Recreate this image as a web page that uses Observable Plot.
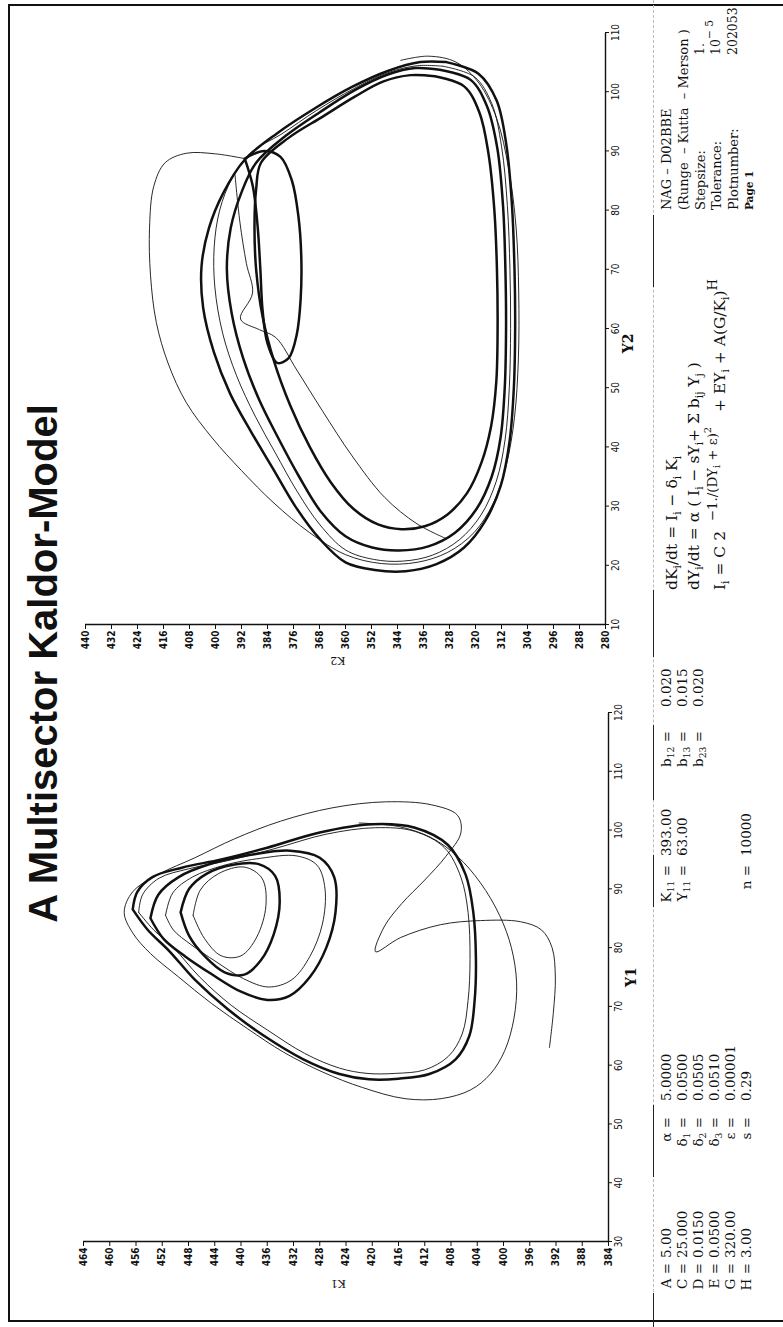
<!DOCTYPE html>
<html>
<head>
<meta charset="utf-8">
<script src="https://cdn.jsdelivr.net/npm/d3@7"></script>
<script src="https://cdn.jsdelivr.net/npm/@observablehq/plot@0.6"></script>
<style>
  html, body { margin: 0; padding: 0; background: #fff; }
  body { width: 783px; height: 1327px; overflow: hidden; position: relative; }
  /* landscape sheet, turned a quarter turn counter-clockwise */
  #page { position: absolute; left: 0; top: 0; width: 1327px; height: 783px;
          transform-origin: 0 0; transform: translate(0px, 1327px) rotate(-90deg); }
  #frame { position: absolute; left: 5px; top: 8px; width: 1314px; height: 800px;
           border-left: 2px solid #111; border-top: 2px solid #111; border-right: 2px solid #111; }
  .abs { position: absolute; white-space: nowrap; color: #111; }
  #title { left: 0; width: 1327px; top: 23px; text-align: center;
           font: bold 40px "Liberation Sans", Arial, sans-serif; line-height: 40px; }
  .serif { font-family: "DejaVu Serif", "Liberation Serif", serif; }
  .chart { position: absolute; top: 0; }
  /* raised / lowered indices that leave the line box alone */
  sub { font-size: 0.68em; position: relative; top: 0.32em; vertical-align: baseline; line-height: 0; }
  sup { font-size: 0.85em; position: relative; top: -0.6em; vertical-align: baseline; line-height: 0; }
  sup.big { font-size: 0.86em; top: -0.62em; }
  sup sup, sup sub { font-size: 0.75em; }
  .rule { position: absolute; height: 0; border-top: 1.2px solid #222; }
  .ruleFaint { position: absolute; height: 0; border-top: 1px dashed #bbb; }
</style>
</head>
<body>
<div id="page">
  <div id="frame"></div>
  <div id="title" class="abs">A Multisector Kaldor-Model</div>
</div>
<script>
// ---- axis ticks ----
const y1Ticks = [30, 40, 50, 60, 70, 80, 90, 100, 110, 120];
const k1Ticks = [384, 388, 392, 396, 400, 404, 408, 412, 416, 420, 424, 428, 432, 436, 440, 444, 448, 452, 456, 460, 464];
const y2Ticks = [10, 20, 30, 40, 50, 60, 70, 80, 90, 100, 110];
const k2Ticks = [280, 288, 296, 304, 312, 320, 328, 336, 344, 352, 360, 368, 376, 384, 392, 400, 408, 416, 424, 432, 440];

// ---- sector 1 orbit pieces, [K1, Y1] ----
const s1Start = [[393,63],[392.4,69],[392.1,75],[392.6,80],[394.2,83],[397.4,84.4],[403.5,84.6],[409.6,83.9],[415.7,81.7],[419.5,79.3],
  [418.2,83.5],[415.5,87.5],[412,91.5],[408.8,95.5],[406.5,99.5],[407,102.5],[411,104.3],[418,104.8],[426,103.8],[434,101.5],
  [441,98.5],[447,95.3],[452.5,92.5],[456.5,89.5],[457.8,86],[456.5,82.5],[453.8,79],[449.5,75],[444.5,70.5],[439,66.2],
  [433.5,62.2],[427.5,58.8],[421.5,56.2],[415,54.3],[409.5,54.3],[405,55.8],[402,58.5],[399.8,62.5],[398.4,68],[398,74],
  [398.8,80],[400.6,85.5],[403.5,91],[407,95.5],[411,98.7],[416,100.6],[422,101.2]];
const s1LoopA = [[456.5,86.5],[455.8,89.5],[453.5,92],[449,93.6],[443,95],[436,97],[428,99.6],[420,101],[413.5,100.4],[408.5,97.5],
  [405.8,92.5],[404.6,86],[404.2,78],[404.4,71],[405.2,65],[407.3,61],[411.3,58.5],[416,57.7],[420.5,57.6],[425,58.5],
  [430.5,61],[436.5,65],[442,69.5],[447,74.5],[451,79.5],[454.2,83],[456.5,86.5]];
const s1LoopB = [[453.8,85],[452.6,89],[449.5,92],[444.5,94.3],[438.5,95.8],[432.5,96.5],[428,95.3],[425.8,92],[425.6,86],[427,80],
  [429.5,75],[432.6,71.8],[436,71.1],[440,72.5],[444.5,75.5],[448.5,78.5],[451.8,81.5],[453.8,85]];
const s1LoopC = [[449.2,86],[447.9,90],[445.2,92.6],[441.2,94.1],[437.3,94.2],[434.8,92.2],[434.1,87.8],[435,82.3],[437,77.8],
  [439.5,75.4],[442.5,75.8],[445.5,78.5],[447.9,82],[449.2,86]];
const s1LoopD = [[447.3,85.5],[446.2,89.8],[443.4,92.6],[439.5,93.7],[436.8,91.8],[436.2,87.2],[437.6,81.8],[440,78.6],[443,78.6],
  [445.6,81.6],[447.3,85.5]];
const s1LoopE = [[455.6,86],[455,89],[452.5,91.8],[448,93.4],[442,94.8],[435,96.8],[427,99.3],[419.5,100.4],[413.6,99.8],[409,97],
  [406.5,92],[405.4,86],[405.1,78],[405.4,71],[406.3,65.3],[408.4,61.5],[412,59.2],[416.5,58.6],[420.8,58.6],[425,59.5],
  [430.3,62],[436,66],[441.5,70.2],[446.3,75],[450.3,80],[453.3,83],[455.6,86]];
const s1LoopF = [[451.5,85.5],[450.4,89.3],[447.4,92],[442.6,94],[437,95.2],[431.5,95.6],[428.4,94],[427.2,90],[427.6,84],
  [429.5,78.5],[432.3,74.5],[435.8,73.3],[439.6,74.7],[443.8,77.6],[447.6,80.5],[450.3,83],[451.5,85.5]];

// ---- sector 2 orbit pieces, [K2, Y2] ----
const s2LoopA = [[329,105],[319,103],[313.5,98.5],[310.5,91],[308.8,81],[308,70],[307.8,60],[308.2,50],[309.5,41],[312.2,33.5],
  [317,27.5],[323.5,23],[332,20.2],[341.5,19],[351,19.2],[360,20.5],[368,24.5],[375.5,30],[382.5,36.5],[389,42.5],[395.5,49],
  [400.5,56],[403.8,63.5],[404.3,70.5],[402,77],[397.5,83],[391,88.5],[381,93],[370,97],[358,100.8],[347,103.5],[337,105],[329,105]];
const s2LoopB = [[331,103.7],[321.5,102],[316.5,97.6],[313.3,90.5],[311.5,80.5],[310.8,70],[310.6,60],[311,50],[312.3,41.5],[315,35],
  [319.7,29.5],[326.3,25.5],[334.5,23.2],[343.5,22.5],[351.8,23],[360,24.9],[367.5,29],[374.3,35],[380.7,41.5],[386.6,48],
  [391.5,55],[395,62.5],[396.5,70],[395.3,77],[392,83],[387.5,88],[378.5,92.5],[368,96.5],[357,100.3],[347,102.9],[338.5,104],[331,103.7]];
const s2LoopC = [[332.5,102.6],[323.5,100.9],[318.8,96.5],[316,89.5],[314.2,80],[313.4,70],[313.2,60],[313.6,51],[315.2,43.5],
  [318.2,37.3],[322.6,32.2],[328.6,28.6],[335.6,26.6],[342.8,26.1],[350,26.9],[357.5,29.5],[364.5,34],[371,40],[377,47],[382,54.5],
  [385.5,62],[387.5,70],[388,77.5],[387.5,83.5],[386,88],[377.5,92.2],[367,95.8],[357,99.2],[348.5,101.7],[340,102.8],[332.5,102.6]];
const s2LoopSmall = [[391,88.7],[388.5,84],[387,77],[386.2,70],[385.5,63],[384,57.5],[381,54.2],[377.5,55],[375,59],[373.8,65],
  [373.6,72],[374.5,79],[376.5,85],[380,89],[385,90],[391,88.7]];
const s2Outer = [[391,88.7],[400,89.5],[409,89.6],[415.5,88],[419,84],[420.3,77],[420,69],[418.2,61],[414.5,54],[409,47.5],
  [401,41.5],[392,36],[382,30.5],[371,25.5],[360,21.8],[349,20.3],[338,20.5],[328.5,22.2],[320.5,25.5],[314.5,30.5],[310.5,37],
  [308,45],[306.8,55],[306.7,66],[307.5,77],[309.8,87],[313.5,95.5],[319,101.5],[326,105],[334.5,106],[343,105.3]];
const s2Start = [[394,86],[392.5,78],[390.5,71],[388.6,66],[392.3,61.6],[386.5,59.8],[381.5,58.5],[375,53],[367,46],[358,38.5],
  [348,31.5],[338,27],[329,24.5]];
const s2LoopD = [[330,104.3],[320.3,102.5],[315,98],[312,90.8],[310.2,80.8],[309.4,70],[309.2,60],[309.6,50],[310.9,41.2],
  [313.6,34.2],[318.3,28.5],[325,24.3],[333.3,21.7],[342.5,20.7],[351.4,21],[360,22.6],[367.8,26.8],[374.9,32.5],[381.6,39],
  [387.8,45.2],[393.5,52],[397.8,59.2],[400.2,67],[400.4,73.8],[398.7,80],[394.8,85.5],[389,89.8],[379.8,92.8],[369,96.8],
  [357.5,100.5],[347,103.2],[337.8,104.4],[330,104.3]];

// ---- printed parameters ----
const sectorNames = ["A", "C", "D", "E", "G", "H"];
const sectorValues = ["5.00", "25.000", "0.0150", "0.0500", "320.00", "3.00"];
const rateNames = ["&alpha;", "&delta;<sub>1</sub>", "&delta;<sub>2</sub>", "&delta;<sub>3</sub>", "&epsilon;", "s"];
const rateValues = ["5.0000", "0.0500", "0.0505", "0.0510", "0.00001", "0.29"];
const initNames = ["K<sub>11</sub>", "Y<sub>11</sub>"];
const initValues = ["393.00", "63.00"];
const couplingNames = ["b<sub>12</sub>", "b<sub>13</sub>", "b<sub>23</sub>"];
const couplingValues = ["0.020", "0.015", "0.020"];
const stepCount = "10000";
const equations = [
  "dK<sub>i</sub>/dt = I<sub>i</sub> &minus; &delta;<sub>i</sub> K<sub>i</sub>",
  "dY<sub>i</sub>/dt = &alpha; ( I<sub>i</sub> &minus; sY<sub>i</sub>+ &Sigma; b<sub>ij</sub> Y<sub>j</sub> )",
  "I<sub>i</sub> = C 2 &nbsp;<sup class=\"big\">&minus;1./(DY<sub>i</sub> + &epsilon;)<sup>2</sup></sup> &nbsp;&nbsp;+ EY<sub>i</sub> + A(G/K<sub>i</sub>)<sup>H</sup>"
];
const solverLines = ["NAG &ndash; D02BBE", "(Runge &nbsp;&ndash; Kutta &nbsp;&ndash; Merson )", "Stepsize:", "Tolerance:", "Plotnumber:", "Page 1"];
const solverValues = ["", "", "1.", "10<sup>&minus; 5</sup>", "202053", ""];

const page = document.getElementById("page");
const INK = "#111";

function series(pieces) {
  return pieces.flatMap(([pts, id]) => pts.map(([k, y]) => ({k, y, id})));
}

function phasePlot({xTicks, yTicks, xDomain, yDomain, thick, thin, xLabel, xLabelAt, yLabel, width, ml, mr, mt, mb, yLabelDx, xLabelDy}) {
  return Plot.plot({
    width, height: 700,
    marginLeft: ml, marginRight: mr, marginTop: mt, marginBottom: mb,
    style: {background: "transparent", overflow: "visible", color: INK},
    x: {domain: xDomain},
    y: {domain: yDomain},
    marks: [
      Plot.axisY({ticks: yTicks, tickSize: 4, tickPadding: 2, label: null, tickFormat: d => d,
        fontFamily: "DejaVu Sans Condensed", fontWeight: "bold", fontSize: 10}),
      Plot.axisX({ticks: xTicks, tickSize: 4, tickPadding: 2, label: null, tickFormat: d => d,
        fontFamily: "DejaVu Sans Condensed", fontSize: 10}),
      Plot.ruleX([xDomain[0]], {stroke: INK, strokeWidth: 1.4}),
      Plot.ruleY([yDomain[0]], {stroke: INK, strokeWidth: 1.4}),
      Plot.line(series(thin), {x: "y", y: "k", z: "id", curve: "catmull-rom", stroke: INK, strokeWidth: 0.9}),
      Plot.line(series(thick), {x: "y", y: "k", z: "id", curve: "catmull-rom", stroke: INK, strokeWidth: 2.5}),
      Plot.text([xLabel], {text: d => d, x: () => xLabelAt, frameAnchor: "bottom", dy: xLabelDy, lineAnchor: "middle",
        fontFamily: "DejaVu Serif", fontWeight: "bold", fontSize: 14}),
      Plot.text([yLabel], {text: d => d, frameAnchor: "left", dx: yLabelDx, rotate: -90, lineAnchor: "middle",
        fontFamily: "DejaVu Serif", fontSize: 11})
    ]
  });
}

// sector 1: plot frame spans u 85..614, v 83..608
const left = phasePlot({
  xTicks: y1Ticks, yTicks: k1Ticks, xDomain: [30, 120], yDomain: [384, 464],
  thick: [[s1LoopA, "a"], [s1LoopB, "b"], [s1LoopC, "c"]],
  thin: [[s1Start, "s"], [s1LoopD, "d"], [s1LoopE, "e"], [s1LoopF, "f"]],
  xLabel: "Y1", xLabelAt: 75, yLabel: "K1", width: 660, ml: 85, mr: 46, mt: 83, mb: 92, yLabelDx: -42, xLabelDy: 23
});
left.classList.add("chart");
left.style.left = "0px";
page.appendChild(left);

// sector 2: plot frame spans u 702..1294, v 85..605
const right = phasePlot({
  xTicks: y2Ticks, yTicks: k2Ticks, xDomain: [10, 110], yDomain: [280, 440],
  thick: [[s2LoopA, "a"], [s2LoopB, "b"], [s2LoopC, "c"], [s2LoopSmall, "m"]],
  thin: [[s2Outer, "o"], [s2Start, "s"], [s2LoopD, "d"]],
  xLabel: "Y2", xLabelAt: 57.5, yLabel: "K2", width: 687, ml: 62, mr: 33, mt: 85, mb: 95, yLabelDx: -36, xLabelDy: 23
});
right.classList.add("chart");
right.style.left = "640px";
page.appendChild(right);

// ---- text blocks below the charts ----
function put(html, u, vMid, size, {align = "left", weight = "normal"} = {}) {
  const d = document.createElement("div");
  d.className = "abs serif";
  d.innerHTML = html;
  d.style.fontSize = size + "px";
  d.style.lineHeight = size + "px";
  d.style.fontWeight = weight;
  d.style.top = (vMid - size / 2) + "px";
  if (align === "right") d.style.right = (1327 - u) + "px";
  else d.style.left = u + "px";
  page.appendChild(d);
}
const rowV = i => 667 + 16 * i;
const PS = 13.5;
sectorNames.forEach((n, i) => { put(n + " =", 64, rowV(i), PS, {align: "right"}); put(sectorValues[i], 69, rowV(i), PS); });
rateNames.forEach((n, i) => { put(n + " =", 210, rowV(i), PS, {align: "right"}); put(rateValues[i], 226, rowV(i), PS); });
initNames.forEach((n, i) => { put(n + " =", 462, rowV(i), PS, {align: "right"}); put(initValues[i], 471, rowV(i), PS); });
put("n =", 462, rowV(5), PS, {align: "right"}); put(stepCount, 471, rowV(5), PS);
couplingNames.forEach((n, i) => { put(n + " =", 596, rowV(i), PS, {align: "right"}); put(couplingValues[i], 620, rowV(i), PS); });
const eqV = [673, 695, 721];
equations.forEach((e, i) => put(e, 737, eqV[i], 15.5));
const solV = [666, 683, 700, 716, 733, 749];
solverLines.forEach((s, i) => put(s, 1117, solV[i], i === 5 ? 10.5 : 13, {weight: i === 5 ? "bold" : "normal"}));
solverValues.forEach((s, i) => { if (s) put(s, 1272, solV[i], 12.5); });

// rule over the text area, drawn in pieces
const ruleSegs = [[0, 34], [150, 222], [420, 472], [527, 602], [670, 737], [1040, 1112]];
const faint = document.createElement("div");
faint.className = "ruleFaint"; faint.style.left = "0px"; faint.style.width = "1327px"; faint.style.top = "653px";
page.appendChild(faint);
ruleSegs.forEach(([a, b]) => {
  const r = document.createElement("div");
  r.className = "rule"; r.style.left = a + "px"; r.style.width = (b - a) + "px"; r.style.top = "653px";
  page.appendChild(r);
});
</script>
</body>
</html>
